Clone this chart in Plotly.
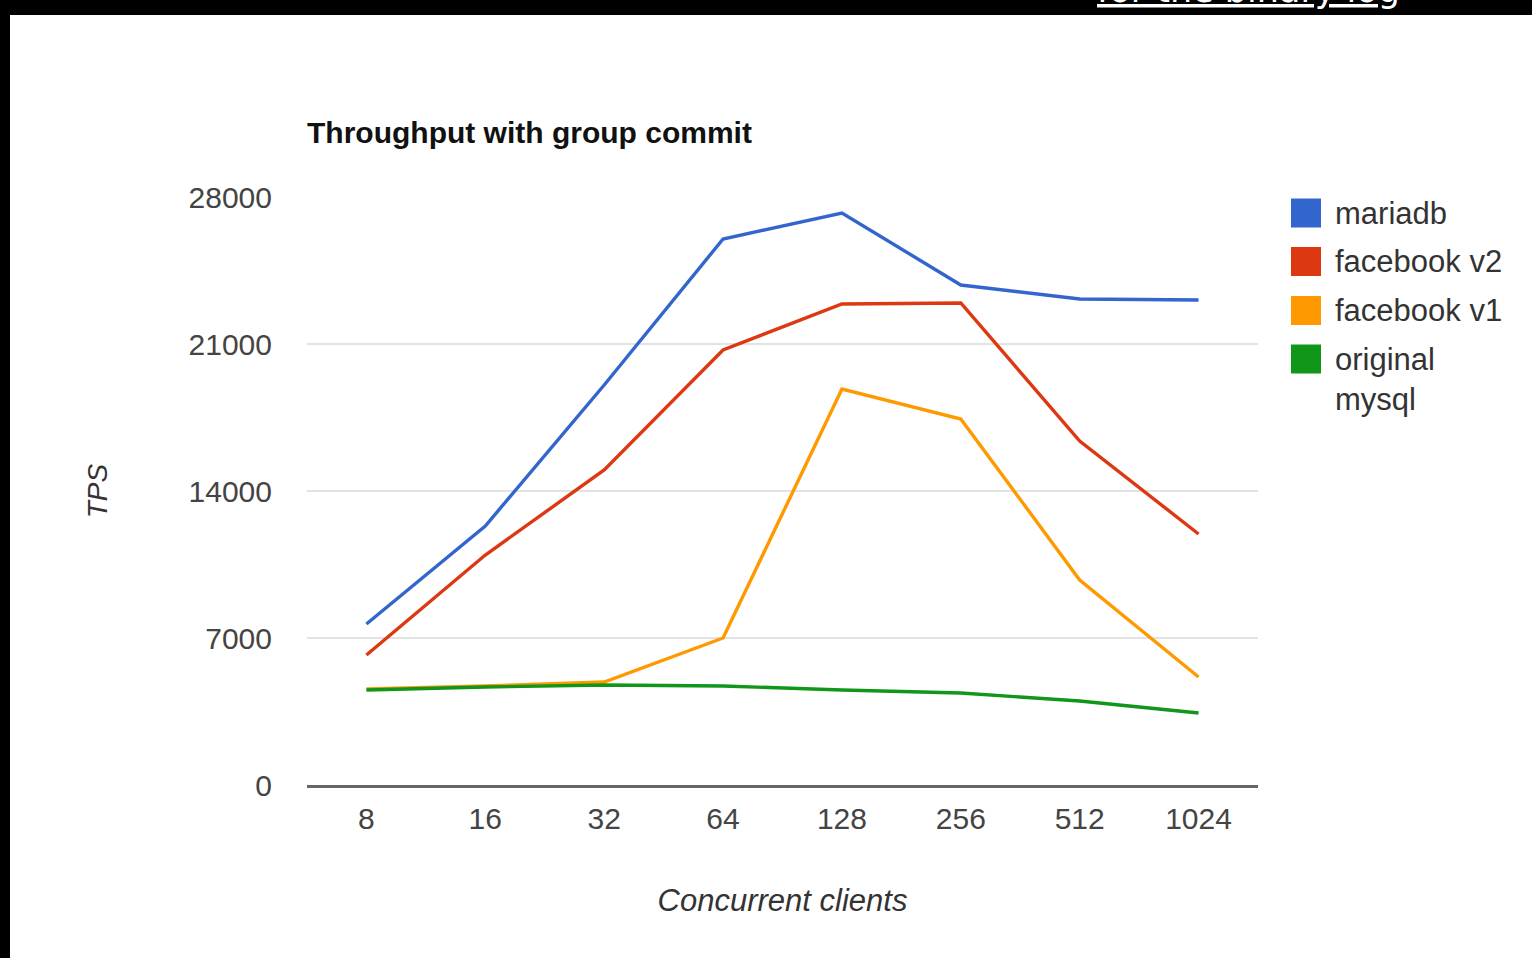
import plotly.graph_objects as go

clients = ["8", "16", "32", "64", "128", "256", "512", "1024"]
mariadb = [7667, 12333, 19048, 26000, 27238, 23810, 23143, 23095]
facebook_v2 = [6190, 10952, 15000, 20714, 22905, 22952, 16381, 11952]
facebook_v1 = [4571, 4714, 4905, 7000, 18857, 17429, 9762, 5143]
original_mysql = [4524, 4667, 4762, 4714, 4524, 4381, 4000, 3429]
y_ticks = [0, 7000, 14000, 21000, 28000]

series_names = ["mariadb", "facebook v2", "facebook v1", "original<br>mysql"]
series_values = [mariadb, facebook_v2, facebook_v1, original_mysql]
series_colors = ["#3366cc", "#dc3912", "#ff9900", "#109618"]

W, H = 1532, 958
L, R, T, B = 307, 1258, 197, 785


def px(x):
    return (x - L) / (R - L)


def py(y):
    return (B - y) / (B - T)


fig = go.Figure()
for name, vals, color in zip(series_names, series_values, series_colors):
    fig.add_trace(go.Scatter(
        x=clients, y=vals, mode="lines", name=name.replace("<br>", " "),
        line=dict(color=color, width=3.4),
        showlegend=False, hoverinfo="x+y+name",
    ))

font_family = "Liberation Sans, Arial, sans-serif"

shapes = [
    dict(type="rect", xref="paper", yref="paper",
         x0=px(-5), x1=px(W + 5), y0=py(15), y1=py(-5),
         fillcolor="black", line=dict(width=0), layer="above"),
    dict(type="rect", xref="paper", yref="paper",
         x0=px(-5), x1=px(10), y0=py(H + 5), y1=py(-5),
         fillcolor="black", line=dict(width=0), layer="above"),
]
annotations = [
    dict(text="<u>for the binary log</u>", xref="paper", yref="paper",
         x=px(1095), xanchor="left", y=py(12), yanchor="bottom",
         showarrow=False,
         font=dict(family="DejaVu Sans", size=35, color="white")),
]

# legend (squares + labels) at the right
legend_centers = [213, 261.5, 310.5, 359]
for name, color, cy in zip(series_names, series_colors, legend_centers):
    shapes.append(dict(type="rect", xref="paper", yref="paper",
                       x0=px(1291), x1=px(1321), y0=py(cy + 14.5), y1=py(cy - 14.5),
                       fillcolor=color, line=dict(width=0)))
    lines = name.count("<br>") + 1
    annotations.append(dict(
        text=name, xref="paper", yref="paper",
        x=px(1333), xanchor="left",
        y=py(cy + (lines - 1) * 20.5), yanchor="middle", align="left",
        showarrow=False,
        font=dict(family=font_family, size=31, color="#333")))

fig.update_layout(
    width=W, height=H,
    margin=dict(l=L, r=W - R, t=T, b=H - B, autoexpand=False),
    paper_bgcolor="white", plot_bgcolor="white",
    font=dict(family=font_family, size=30, color="#444"),
    showlegend=False,
    title=dict(
        text="<b>Throughput with group commit</b>",
        xref="paper", x=0, xanchor="left",
        yref="container", y=1 - 132 / H, yanchor="middle",
        font=dict(family=font_family, size=30, color="#111"),
    ),
    xaxis=dict(
        type="category", range=[-0.5, 7.5],
        showgrid=False, zeroline=False,
        showline=True, linecolor="#666", linewidth=3,
        ticks="outside", ticklen=5, tickcolor="rgba(0,0,0,0)",
        tickfont=dict(size=30, color="#444"),
        title=dict(text="<i>Concurrent clients</i>", standoff=56,
                   font=dict(size=31, color="#333")),
    ),
    yaxis=dict(
        range=[0, 28000], tickvals=y_ticks,
        ticktext=[str(v) for v in y_ticks],
        showgrid=True, gridcolor="#e3e3e3", gridwidth=2,
        zeroline=False, showline=False,
        ticks="outside", ticklen=28, tickcolor="rgba(0,0,0,0)",
        tickfont=dict(size=30, color="#444"),
        title=dict(text="<i>TPS</i>", standoff=72,
                   font=dict(size=28, color="#333")),
    ),
    shapes=shapes,
    annotations=annotations,
)

fig.write_html(
    "out.html",
    config={"displayModeBar": False},
    post_script="document.body.style.margin='0';document.body.style.overflow='hidden';",
)
